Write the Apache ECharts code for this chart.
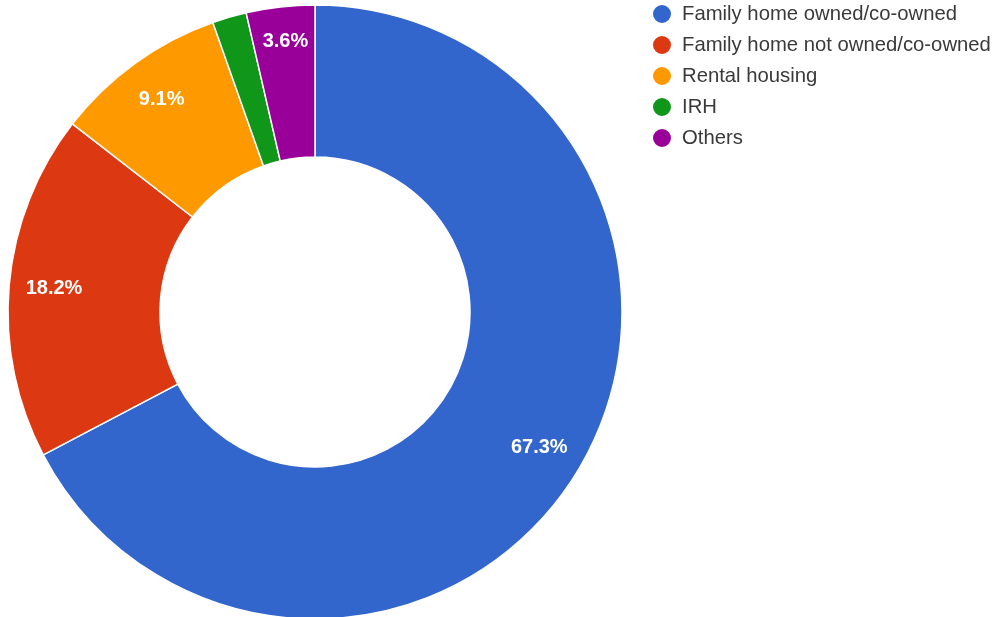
<!DOCTYPE html>
<html>
<head>
<meta charset="utf-8">
<script src="https://cdn.jsdelivr.net/npm/echarts@6/dist/echarts.min.js"></script>
<style>
  html, body { margin: 0; padding: 0; background: #ffffff; }
  #chart { width: 993px; height: 617px; }
</style>
</head>
<body>
<div id="chart"></div>
<script>
// Housing situation shares (percent)
const categories = [
  'Family home owned/co-owned',
  'Family home not owned/co-owned',
  'Rental housing',
  'IRH',
  'Others'
];
const shares = [67.3, 18.2, 9.1, 1.8, 3.6];
const colors = ['#3366cc', '#dc3912', '#ff9900', '#109618', '#990099'];

// Slices too thin to carry a label
const minLabelShare = 3;

const center = [315, 312];

const sliceData = categories.map((name, i) => ({
  name: name,
  value: shares[i],
  itemStyle: { color: colors[i] }
}));

// Label ring: same slices, invisible, used only to place the percentages
const labelData = categories.map((name, i) => ({
  name: name,
  value: shares[i],
  label: {
    show: shares[i] >= minLabelShare,
    offset: shares[i] < 5 ? [0, -10] : [0, 0]
  }
}));

const chart = echarts.init(document.getElementById('chart'), null, { renderer: 'canvas' });

chart.setOption({
  animation: false,
  backgroundColor: '#ffffff',
  legend: {
    orient: 'vertical',
    left: 646,
    top: -2,
    icon: 'circle',
    itemWidth: 20,
    itemHeight: 20,
    itemGap: 9,
    data: categories,
    textStyle: {
      fontFamily: 'Liberation Sans, Arial, sans-serif',
      fontSize: 20.3,
      lineHeight: 20,
      color: '#3a3a3a',
      padding: [0, 0, 0, 5]
    }
  },
  series: [
    {
      name: 'Housing',
      type: 'pie',
      center: center,
      radius: [155, 307],
      startAngle: 90,
      clockwise: true,
      avoidLabelOverlap: false,
      label: { show: false },
      labelLine: { show: false },
      emphasis: { disabled: true },
      itemStyle: { borderColor: '#ffffff', borderWidth: 1.5 },
      data: sliceData
    },
    {
      name: 'Labels',
      type: 'pie',
      center: center,
      radius: [211, 307],
      startAngle: 90,
      clockwise: true,
      silent: true,
      avoidLabelOverlap: false,
      itemStyle: { color: 'rgba(0,0,0,0)' },
      emphasis: { disabled: true },
      labelLine: { show: false },
      label: {
        show: true,
        position: 'inside',
        fontFamily: 'Liberation Sans, Arial, sans-serif',
        fontSize: 20,
        fontWeight: 'bold',
        color: '#ffffff',
        formatter: (p) => p.value.toFixed(1) + '%'
      },
      data: labelData
    }
  ]
});
</script>
</body>
</html>
